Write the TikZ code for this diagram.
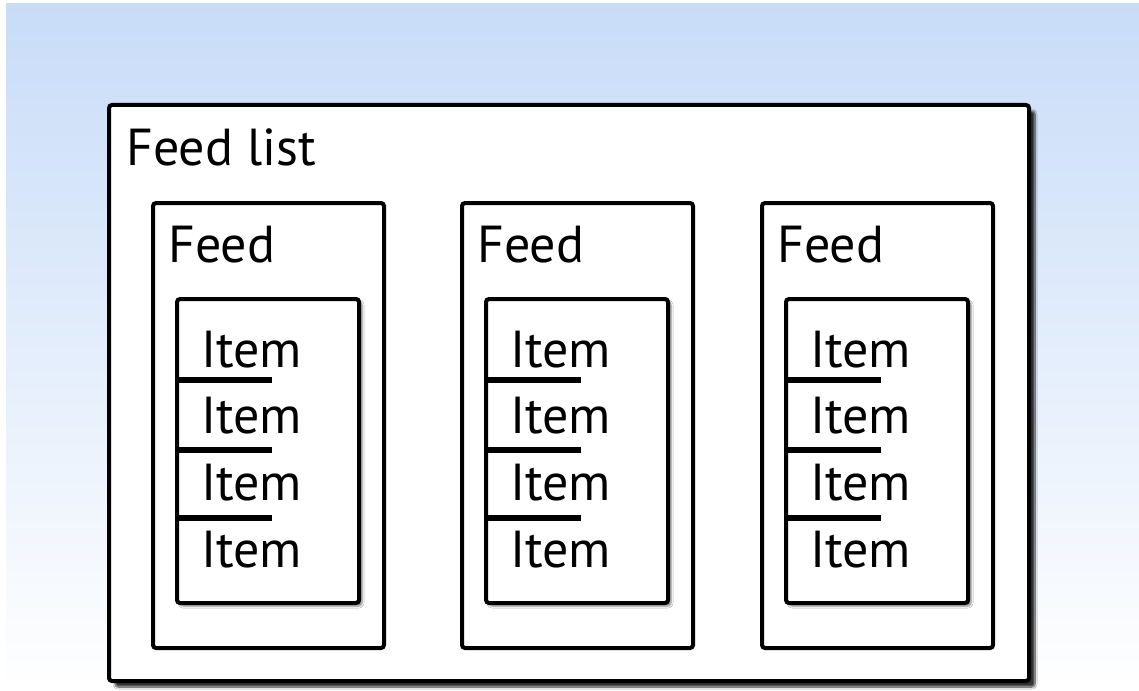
\documentclass[tikz,border=0pt]{standalone}
\usepackage{fontspec}
\setmainfont{PT Sans}
\usetikzlibrary{positioning, shadows.blur}

\definecolor{skyblue}{RGB}{200,220,248}

\begin{document}
\begin{tikzpicture}[x=1pt, y=-1pt,
    listbox/.style={draw=black, line width=4pt, rounded corners=3pt, fill=white, anchor=north west, inner sep=0pt},
    label/.style={anchor=base west, inner sep=0pt, font=\fontsize{52}{52}\selectfont}]
\useasboundingbox (0,0) rectangle (1139,690);
\shade[top color=skyblue, bottom color=white] (6,4) rectangle (1139,690);
% outer list
\node[listbox, minimum width=920pt, minimum height=576pt,
      blur shadow={shadow xshift=6pt, shadow yshift=-6pt, shadow blur steps=10, shadow opacity=80}]
      (feedlist) at (107,103) {};
\node[label] (feedlisttitle) at (126,165) {Feed list};
% one feed per column
\foreach \i/\x in {1/151, 2/460, 3/760}{
  \node[listbox, minimum width=231pt, minimum height=445pt] (feed\i) at (\x,201) {};
  \node[label] (feedtitle\i) at (\x+17,262) {Feed};
  \node[listbox, minimum width=182pt, minimum height=304pt,
        blur shadow={shadow xshift=3pt, shadow yshift=-3pt, shadow blur steps=6, shadow opacity=50}]
        (items\i) at (\x+24,297) {};
  \foreach \j/\y in {1/367, 2/433, 3/500, 4/567}
    \node[label] (item\i-\j) at (\x+50,\y) {Item};
  \foreach \y in {380, 450, 518}
    \draw[line width=6pt] (items\i.west |- 0,\y) -- ++(97,0);
}
\end{tikzpicture}
\end{document}
